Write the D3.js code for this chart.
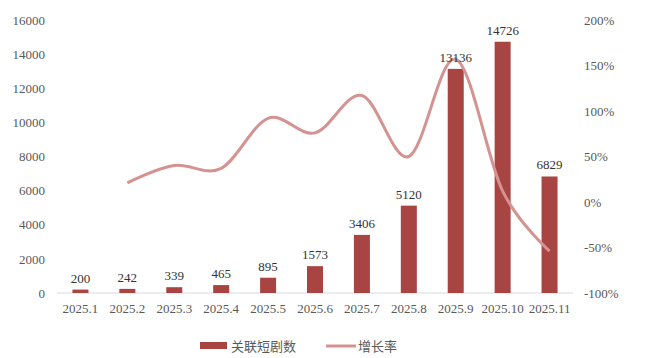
<!DOCTYPE html>
<html>
<head>
<meta charset="utf-8">
<script src="https://cdn.jsdelivr.net/npm/d3@7"></script>
<style>
  body { margin: 0; background: #fff; }
  text { font-family: "Liberation Serif", "Times New Roman", serif; }
  .cjk { font-family: "Noto Sans CJK SC", sans-serif; }
</style>
</head>
<body>
<svg id="chart" width="646" height="358"></svg>
<script>
const months = ["2025.1","2025.2","2025.3","2025.4","2025.5","2025.6","2025.7","2025.8","2025.9","2025.10","2025.11"];
const counts = [200, 242, 339, 465, 895, 1573, 3406, 5120, 13136, 14726, 6829];
// 增长率 (%), no value for the first month
const growth = [null, 21, 40, 37, 92, 76, 117, 50, 157, 12, -54];
const leftTicks = [0, 2000, 4000, 6000, 8000, 10000, 12000, 14000, 16000];
const rightTicks = [-100, -50, 0, 50, 100, 150, 200];

const svg = d3.select("#chart");
const plotL = 57, plotR = 573, plotT = 20, plotB = 293;

const x = d3.scaleBand().domain(months).range([plotL, plotR]).paddingInner(0).paddingOuter(0);
const y = d3.scaleLinear().domain([0, 16000]).range([plotB, plotT]);
const y2 = d3.scaleLinear().domain([-100, 200]).range([plotB, plotT]);

// 左轴
svg.append("g")
  .attr("transform", `translate(${plotL - 12},0)`)
  .call(d3.axisLeft(y).tickValues(leftTicks).tickSize(0).tickPadding(0).tickFormat(d3.format("d")))
  .call(g => g.select(".domain").remove())
  .call(g => g.selectAll("text").attr("fill", "#595959").attr("font-size", 13)
    .attr("font-family", "Liberation Serif, serif"));

// 右轴
svg.append("g")
  .attr("transform", `translate(${plotR + 11},0)`)
  .call(d3.axisRight(y2).tickValues(rightTicks).tickSize(0).tickPadding(0).tickFormat(d => d + "%"))
  .call(g => g.select(".domain").remove())
  .call(g => g.selectAll("text").attr("fill", "#595959").attr("font-size", 13)
    .attr("font-family", "Liberation Serif, serif"));

// 基线
svg.append("line")
  .attr("x1", plotL).attr("x2", plotR)
  .attr("y1", y(0)).attr("y2", y(0))
  .attr("stroke", "#d9d9d9").attr("stroke-width", 1);

// x轴标签
svg.append("g")
  .attr("transform", `translate(0,${plotB + 8})`)
  .call(d3.axisBottom(x).tickSize(0).tickPadding(0))
  .call(g => g.select(".domain").remove())
  .call(g => g.selectAll("text").attr("fill", "#595959").attr("font-size", 13)
    .attr("dy", "0.95em").attr("font-family", "Liberation Serif, serif"));

// 柱子
const barW = 16;
svg.append("g").selectAll("rect")
  .data(counts)
  .join("rect")
  .attr("x", (d, i) => x(months[i]) + x.bandwidth() / 2 - barW / 2)
  .attr("y", d => y(d))
  .attr("width", barW)
  .attr("height", d => y(0) - y(d))
  .attr("fill", "#a84442");

// 增长率曲线
const line = d3.line()
  .x(d => x(d.m) + x.bandwidth() / 2)
  .y(d => y2(d.v))
  .curve(d3.curveCardinal.tension(0));

svg.append("path")
  .datum(months.map((m, i) => ({ m, v: growth[i] })).filter(d => d.v !== null))
  .attr("d", line)
  .attr("fill", "none")
  .attr("stroke", "#d49391")
  .attr("stroke-width", 3);

// 数值标签
svg.append("g").selectAll("text")
  .data(counts)
  .join("text")
  .attr("x", (d, i) => x(months[i]) + x.bandwidth() / 2)
  .attr("y", d => y(d) - 7)
  .attr("text-anchor", "middle")
  .attr("font-size", 13)
  .attr("fill", "#333")
  .text(d => d);

// 图例
const lg = svg.append("g").attr("transform", "translate(0,346)");
lg.append("rect").attr("x", 200).attr("y", -4).attr("width", 27).attr("height", 7).attr("fill", "#a84442");
lg.append("text").attr("class", "cjk").attr("x", 231).attr("y", 0).attr("dy", "0.35em")
  .attr("font-size", 13).attr("fill", "#595959").text("关联短剧数");
lg.append("line").attr("x1", 326).attr("x2", 356).attr("y1", 0).attr("y2", 0)
  .attr("stroke", "#d49391").attr("stroke-width", 3);
lg.append("text").attr("class", "cjk").attr("x", 358).attr("y", 0).attr("dy", "0.35em")
  .attr("font-size", 13).attr("fill", "#595959").text("增长率");
</script>
</body>
</html>
